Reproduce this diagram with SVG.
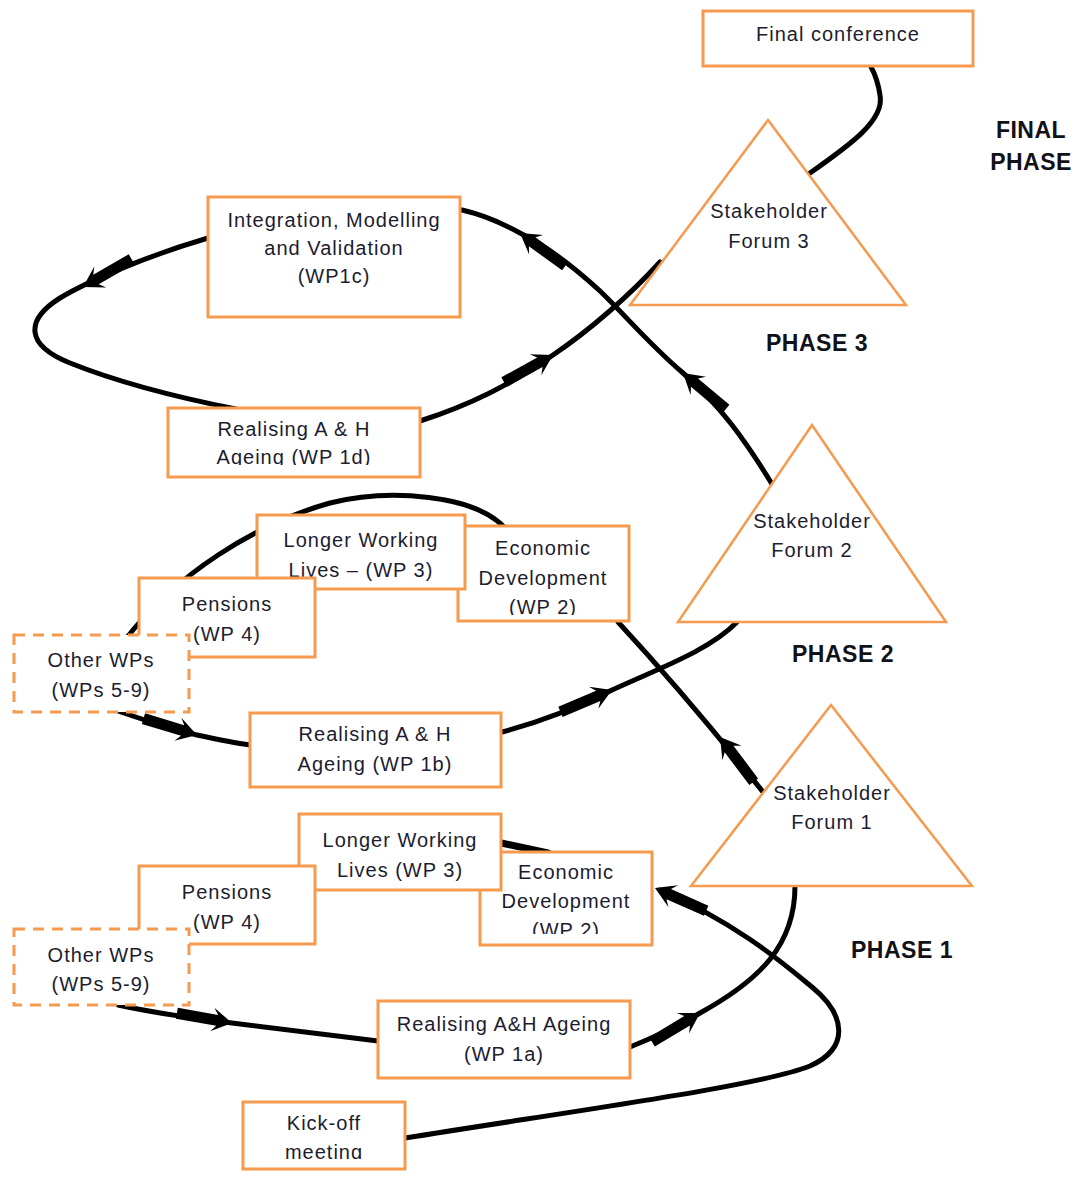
<svg xmlns="http://www.w3.org/2000/svg" xmlns:xlink="http://www.w3.org/1999/xlink" width="1081" height="1180" viewBox="0 0 1081 1180">
  <style>
    .box { fill: #ffffff; stroke: #F59A4E; stroke-width: 3; }
    .dash { stroke-dasharray: 11 8; }
    .tri { fill: #ffffff; stroke: #F59A4E; stroke-width: 2.5; stroke-linejoin: miter; }
    .lbl { font-family: "Liberation Sans", Arial, sans-serif; font-size: 20px; letter-spacing: 1px; fill: #1c1c30; text-anchor: middle; }
    .phase { font-family: "Liberation Sans", Arial, sans-serif; font-size: 23px; font-weight: bold; fill: #111118; text-anchor: middle; letter-spacing: 0.5px; }
    .flow { fill: none; stroke: #000000; stroke-width: 5; stroke-linecap: round; }
    .arw { fill: #000000; }
  </style>
  <defs>
    <!-- heavy arrow: thick shaft with barbed head, tip at the origin pointing along +x -->
    <path id="arrow" d="M0,0 L-20,-12 L-15,-5.5 L-56,-5.5 L-56,5.5 L-15,5.5 L-20,12 Z"/>
    <clipPath id="clip-wp1d"><rect x="168" y="408" width="252" height="57"/></clipPath>
    <clipPath id="clip-ed2"><rect x="458" y="526" width="171" height="89"/></clipPath>
    <clipPath id="clip-ed1"><rect x="480" y="852" width="172" height="82"/></clipPath>
    <clipPath id="clip-kick"><rect x="243" y="1102" width="162" height="57"/></clipPath>
  </defs>

  <rect width="1081" height="1180" fill="#ffffff"/>

  <!-- connectors -->
  <g id="connectors">
    <!-- kick-off to economic development (phase 1) -->
    <path class="flow" d="M405,1138 C580,1110 760,1086 810,1066 C850,1048 846,1015 812,987 C785,965 740,925 660,890"/>
    <use href="#arrow" class="arw" transform="translate(655,888) rotate(204)"/>
    <!-- economic development to longer working lives (phase 1) -->
    <path class="flow" d="M492,841 L548,853" style="stroke-width:7"/>
    <!-- other WPs to realising A&H ageing 1a -->
    <path class="flow" d="M118,1005 C150,1012 190,1018 232,1023 C290,1030 340,1036 378,1041"/>
    <use href="#arrow" class="arw" transform="translate(232,1023) rotate(10)"/>
    <!-- 1a to stakeholder forum 1 -->
    <path class="flow" d="M630,1047 C655,1037 680,1025 700,1013 C760,980 795,945 795,886"/>
    <use href="#arrow" class="arw" transform="translate(700,1013) rotate(-31)"/>
    <!-- forum 1 to economic development (phase 2) -->
    <path class="flow" d="M763,792 C735,757 690,700 618,622"/>
    <use href="#arrow" class="arw" transform="translate(720,737) rotate(233)"/>
    <!-- arc over the phase 2 work packages -->
    <path class="flow" d="M505,528 C475,495 390,488 330,503 C255,524 175,575 125,640"/>
    <!-- other WPs to realising A&H ageing 1b -->
    <path class="flow" d="M118,711 C150,722 175,730 197,735 C220,740 235,743 250,745"/>
    <use href="#arrow" class="arw" transform="translate(197,735) rotate(17)"/>
    <!-- 1b to stakeholder forum 2 -->
    <path class="flow" d="M502,732 C540,722 580,706 612,690 C660,668 710,650 737,622"/>
    <use href="#arrow" class="arw" transform="translate(612,690) rotate(-23)"/>
    <!-- forum 2 to integration, modelling and validation -->
    <path class="flow" d="M772,484 C745,440 720,405 683,373 C650,345 625,315 600,291 C575,268 550,248 520,233 C500,222 480,214 462,210"/>
    <use href="#arrow" class="arw" transform="translate(683,373) rotate(220)"/>
    <use href="#arrow" class="arw" transform="translate(520,233) rotate(216)"/>
    <!-- integration loop back to realising A&H ageing 1d -->
    <path class="flow" d="M208,238 C150,255 90,280 60,298 C25,320 25,345 70,363 C120,383 180,398 236,409"/>
    <use href="#arrow" class="arw" transform="translate(83,287) rotate(150)"/>
    <!-- 1d to stakeholder forum 3 -->
    <path class="flow" d="M420,421 C470,405 510,385 553,355 C590,330 630,295 660,262"/>
    <use href="#arrow" class="arw" transform="translate(553,355) rotate(-29)"/>
    <!-- forum 3 to final conference -->
    <path class="flow" d="M810,173 C850,145 885,120 880,95 C878,82 875,74 871,67"/>
  </g>

  <!-- final phase -->
  <g id="final-conference">
    <rect class="box" x="703" y="11" width="270" height="55"/>
    <text class="lbl" x="838" y="41">Final conference</text>
  </g>
  <g id="forum-3">
    <polygon class="tri" points="768,120 906,305 630,305"/>
    <text class="lbl" x="769" y="218">Stakeholder</text>
    <text class="lbl" x="769" y="248">Forum 3</text>
  </g>

  <!-- phase 3 -->
  <g id="wp1c">
    <rect class="box" x="208" y="197" width="252" height="120"/>
    <text class="lbl" x="334" y="227">Integration, Modelling</text>
    <text class="lbl" x="334" y="255">and Validation</text>
    <text class="lbl" x="334" y="283">(WP1c)</text>
  </g>
  <g id="wp1d">
    <rect class="box" x="168" y="408" width="252" height="69"/>
    <g clip-path="url(#clip-wp1d)">
      <text class="lbl" x="294" y="436">Realising A &amp; H</text>
      <text class="lbl" x="294" y="464">Ageing (WP 1d)</text>
    </g>
  </g>
  <g id="forum-2">
    <polygon class="tri" points="812,425 946,622 678,622"/>
    <text class="lbl" x="812" y="528">Stakeholder</text>
    <text class="lbl" x="812" y="557">Forum 2</text>
  </g>

  <!-- phase 2 -->
  <g id="wp2-phase2">
    <rect class="box" x="458" y="526" width="171" height="95"/>
    <g clip-path="url(#clip-ed2)">
      <text class="lbl" x="543" y="555">Economic</text>
      <text class="lbl" x="543" y="585">Development</text>
      <text class="lbl" x="543" y="614">(WP 2)</text>
    </g>
  </g>
  <g id="wp3-phase2">
    <rect class="box" x="257" y="515" width="208" height="74"/>
    <text class="lbl" x="361" y="547">Longer Working</text>
    <text class="lbl" x="361" y="577">Lives – (WP 3)</text>
  </g>
  <g id="wp4-phase2">
    <rect class="box" x="139" y="578" width="176" height="79"/>
    <text class="lbl" x="227" y="611">Pensions</text>
    <text class="lbl" x="227" y="641">(WP 4)</text>
  </g>
  <g id="other-phase2">
    <rect class="box dash" x="14" y="635" width="175" height="77"/>
    <text class="lbl" x="101" y="667">Other WPs</text>
    <text class="lbl" x="101" y="697">(WPs 5-9)</text>
  </g>
  <g id="wp1b">
    <rect class="box" x="250" y="713" width="251" height="74"/>
    <text class="lbl" x="375" y="741">Realising A &amp; H</text>
    <text class="lbl" x="375" y="771">Ageing (WP 1b)</text>
  </g>
  <g id="forum-1">
    <polygon class="tri" points="831,705 972,886 691,886"/>
    <text class="lbl" x="832" y="800">Stakeholder</text>
    <text class="lbl" x="832" y="829">Forum 1</text>
  </g>

  <!-- phase 1 -->
  <g id="wp2-phase1">
    <rect class="box" x="480" y="852" width="172" height="93"/>
    <g clip-path="url(#clip-ed1)">
      <text class="lbl" x="566" y="879">Economic</text>
      <text class="lbl" x="566" y="908">Development</text>
      <text class="lbl" x="566" y="937">(WP 2)</text>
    </g>
  </g>
  <g id="wp3-phase1">
    <rect class="box" x="299" y="814" width="202" height="76"/>
    <text class="lbl" x="400" y="847">Longer Working</text>
    <text class="lbl" x="400" y="877">Lives (WP 3)</text>
  </g>
  <g id="wp4-phase1">
    <rect class="box" x="139" y="866" width="176" height="78"/>
    <text class="lbl" x="227" y="899">Pensions</text>
    <text class="lbl" x="227" y="929">(WP 4)</text>
  </g>
  <g id="other-phase1">
    <rect class="box dash" x="14" y="929" width="175" height="76"/>
    <text class="lbl" x="101" y="962">Other WPs</text>
    <text class="lbl" x="101" y="991">(WPs 5-9)</text>
  </g>
  <g id="wp1a">
    <rect class="box" x="378" y="1001" width="252" height="77"/>
    <text class="lbl" x="504" y="1031">Realising A&amp;H Ageing</text>
    <text class="lbl" x="504" y="1061">(WP 1a)</text>
  </g>
  <g id="kick-off">
    <rect class="box" x="243" y="1102" width="162" height="67"/>
    <g clip-path="url(#clip-kick)">
      <text class="lbl" x="324" y="1130">Kick-off</text>
      <text class="lbl" x="324" y="1159">meeting</text>
    </g>
  </g>

  <!-- phase labels -->
  <g id="phase-labels">
    <text class="phase" x="1031" y="138">FINAL</text>
    <text class="phase" x="1031" y="170">PHASE</text>
    <text class="phase" x="817" y="351">PHASE 3</text>
    <text class="phase" x="843" y="662">PHASE 2</text>
    <text class="phase" x="902" y="958">PHASE 1</text>
  </g>
</svg>
